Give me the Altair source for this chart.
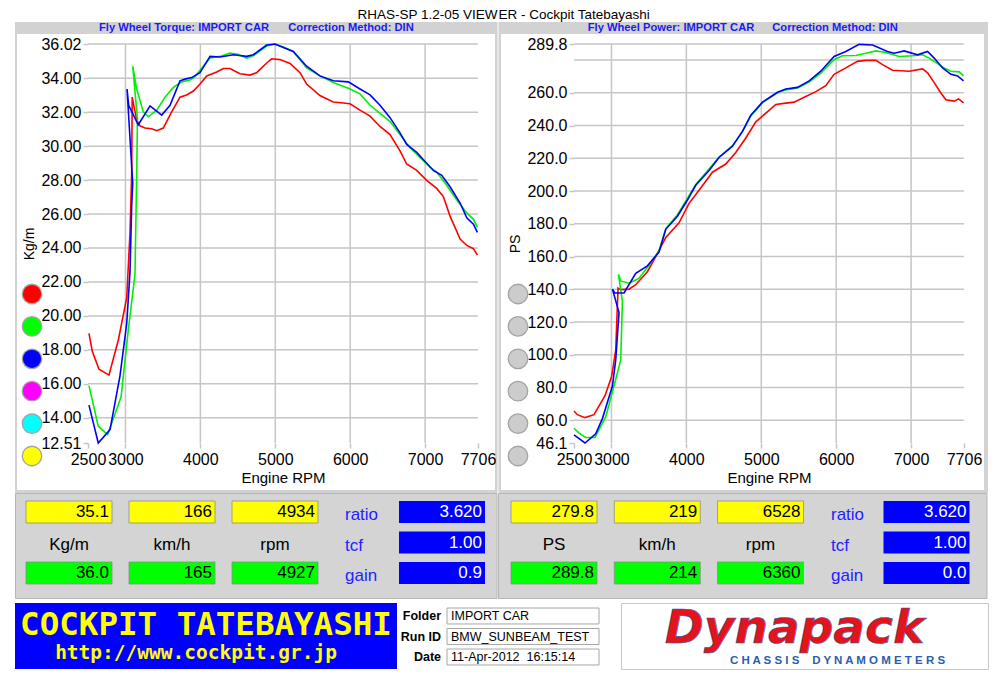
import altair as alt
import pandas as pd

# ---------------- data ----------------
TITLE_LEFT = "RHAS-SP 1.2-05 VIEW"
TITLE_RIGHT = "ER - Cockpit Tatebayashi"
RUNS = ["Run 1", "Run 2", "Run 3"]
RUN_COLORS = ["#ff0000", "#00f000", "#0000ff"]
LEGEND_LEFT = ["#ff0000", "#00ff00", "#0000ff", "#ff00ff", "#00ffff", "#ffff00"]
LEGEND_RIGHT = ["#cccccc"] * 6

X_TICKS = [2500, 3000, 4000, 5000, 6000, 7000, 7706]
X_GRID = [3000, 4000, 5000, 6000, 7000]
TORQUE_TICKS = [12.51, 14, 16, 18, 20, 22, 24, 26, 28, 30, 32, 34, 36.02]
TORQUE_GRID = [14, 16, 18, 20, 22, 24, 26, 28, 30, 32, 34, 36.02]
POWER_TICKS = [46.1, 60, 80, 100, 120, 140, 160, 180, 200, 220, 240, 260, 289.8]
POWER_GRID = [60, 80, 100, 120, 140, 160, 180, 200, 220, 240, 260, 280, 289.8]

TORQUE_RED = [(2513, 18.97), (2557, 17.91), (2647, 16.86), (2780, 16.51), (2905, 18.58), (3017, 21.08),
              (3061, 24.92), (3083, 28.38), (3090, 32.89), (3150, 31.54), (3194, 31.20), (3261, 31.07),
              (3350, 31.03), (3417, 30.91), (3505, 31.07), (3617, 32.02), (3728, 32.89), (3817, 33.02),
              (3906, 33.25), (3995, 33.66), (4085, 34.14), (4218, 34.37), (4307, 34.58), (4395, 34.58),
              (4529, 34.27), (4663, 34.19), (4752, 34.33), (4885, 34.90), (4952, 35.15), (5063, 35.10),
              (5197, 34.87), (5330, 34.33), (5418, 33.66), (5596, 32.98), (5774, 32.60), (5908, 32.54),
              (5997, 32.50), (6131, 32.12), (6265, 31.77), (6398, 31.16), (6532, 30.68), (6665, 29.72),
              (6754, 28.95), (6888, 28.57), (7021, 27.99), (7154, 27.51), (7243, 27.03), (7333, 25.88),
              (7467, 24.53), (7556, 24.15), (7645, 23.96), (7698, 23.58)]
TORQUE_GREEN = [(2513, 15.89), (2637, 13.50), (2763, 13.01), (2941, 15.22), (3038, 19.16), (3127, 22.43),
                (3150, 28.38), (3160, 31.60), (3097, 34.71), (3150, 33.37), (3238, 32.02), (3305, 31.73),
                (3417, 32.12), (3528, 32.89), (3639, 33.46), (3751, 33.79), (3862, 33.90), (3928, 34.10),
                (4039, 34.71), (4129, 35.19), (4262, 35.29), (4395, 35.48), (4500, 35.42), (4618, 35.19),
                (4707, 35.33), (4885, 35.90), (4996, 36.00), (5107, 35.85), (5240, 35.58), (5418, 34.61),
                (5596, 34.14), (5774, 33.75), (5975, 33.41), (6131, 33.08), (6265, 32.41), (6398, 31.93),
                (6532, 31.45), (6665, 30.68), (6799, 29.91), (6932, 29.34), (7065, 28.76), (7154, 28.47),
                (7288, 27.70), (7421, 26.84), (7556, 26.07), (7645, 25.69), (7698, 25.21)]
TORQUE_BLUE = [(2513, 14.74), (2637, 12.51), (2794, 13.30), (2927, 16.47), (3017, 19.55), (3061, 22.62),
               (3083, 26.47), (3097, 27.80), (3021, 33.37), (3043, 32.41), (3171, 31.26), (3328, 32.37),
               (3484, 31.83), (3595, 32.41), (3728, 33.85), (3795, 33.95), (3884, 34.04), (3995, 34.33),
               (4129, 35.29), (4262, 35.25), (4440, 35.39), (4618, 35.29), (4707, 35.39), (4885, 35.96),
               (4996, 36.02), (5107, 35.82), (5240, 35.58), (5418, 34.71), (5596, 34.14), (5774, 33.85),
               (5975, 33.79), (6131, 33.37), (6265, 33.02), (6398, 32.41), (6532, 31.68), (6665, 30.78),
               (6754, 30.10), (6888, 29.63), (7021, 28.99), (7110, 28.57), (7222, 28.28), (7333, 27.61),
               (7467, 26.65), (7556, 25.78), (7645, 25.40), (7698, 24.92)]

POWER_RED = [(2500, 65.7), (2545, 63.4), (2647, 61.6), (2767, 63.4), (2914, 75.0), (3003, 86.9),
             (3057, 102.9), (3088, 140.7), (3124, 139.8), (3235, 140.1), (3324, 142.8), (3480, 150.7),
             (3591, 160.0), (3725, 171.6), (3902, 180.6), (4036, 192.5), (4169, 200.5), (4348, 211.5),
             (4526, 216.5), (4659, 223.5), (4793, 232.4), (4927, 242.3), (5104, 249.3), (5194, 252.9),
             (5327, 253.7), (5438, 254.3), (5572, 257.3), (5728, 260.7), (5861, 264.3), (5972, 271.3),
             (6128, 275.2), (6284, 279.2), (6396, 279.8), (6529, 279.8), (6619, 277.2), (6752, 273.8),
             (6974, 273.2), (7153, 274.6), (7220, 272.2), (7308, 266.2), (7397, 259.9), (7464, 255.7),
             (7575, 254.9), (7634, 256.3), (7700, 253.9)]
POWER_GREEN = [(2500, 55.1), (2567, 52.1), (2656, 49.5), (2780, 49.5), (2923, 62.0), (3034, 80.9),
               (3124, 96.9), (3146, 132.8), (3093, 149.1), (3124, 145.1), (3235, 143.7), (3368, 146.7),
               (3501, 154.7), (3635, 163.5), (3725, 177.0), (3881, 185.5), (4014, 195.5), (4125, 204.0),
               (4303, 213.5), (4436, 220.8), (4615, 227.6), (4749, 236.4), (4860, 245.8), (5016, 254.0),
               (5216, 260.0), (5327, 261.8), (5483, 263.0), (5639, 266.5), (5794, 272.0), (5972, 280.2),
               (6084, 282.6), (6262, 282.8), (6396, 284.2), (6529, 285.6), (6663, 284.6), (6841, 282.2),
               (7019, 282.6), (7153, 283.2), (7241, 281.2), (7441, 275.2), (7531, 273.2), (7642, 272.8),
               (7700, 270.3)]
POWER_BLUE = [(2500, 51.1), (2647, 46.1), (2790, 51.7), (2879, 61.0), (3013, 80.9), (3057, 96.9),
              (3101, 125.8), (3013, 140.1), (3044, 137.7), (3168, 137.7), (3324, 149.7), (3480, 154.3),
              (3635, 162.7), (3725, 176.6), (3881, 184.6), (4014, 194.5), (4125, 203.5), (4303, 212.5),
              (4436, 220.5), (4615, 227.4), (4749, 236.4), (4860, 246.3), (5016, 254.3), (5216, 260.3),
              (5327, 262.3), (5483, 263.3), (5639, 267.3), (5794, 273.2), (5972, 282.2), (6128, 285.2),
              (6306, 289.6), (6485, 289.2), (6685, 285.2), (6774, 284.2), (6907, 285.6), (7086, 283.2),
              (7220, 285.2), (7308, 281.2), (7420, 275.2), (7531, 271.3), (7620, 270.3), (7700, 267.3)]

VALUE_COLS = ["c1", "c2", "c3"]
ROWS = ["top", "mid", "bot"]
LEFT_TOP = ["35.1", "166", "4934"]
LEFT_UNITS = ["Kg/m", "km/h", "rpm"]
LEFT_BOT = ["36.0", "165", "4927"]
RIGHT_TOP = ["279.8", "219", "6528"]
RIGHT_UNITS = ["PS", "km/h", "rpm"]
RIGHT_BOT = ["289.8", "214", "6360"]
SIDE_LABELS = ["ratio", "tcf", "gain"]
LEFT_SIDE = ["3.620", "1.00", "0.9"]
RIGHT_SIDE = ["3.620", "1.00", "0.0"]

SHOP_LINES = ["COCKPIT TATEBAYASHI", "http://www.cockpit.gr.jp"]
FIELD_LABELS = ["Folder", "Run ID", "Date"]
FIELD_VALUES = ["IMPORT CAR", "BMW_SUNBEAM_TEST", "11-Apr-2012\u00a0\u00a016:15:14"]
BRAND = "Dynapack"
TAGLINE = "C H A S S I S\u00a0\u00a0\u00a0\u00a0D Y N A M O M E T E R S"

# ---------------- styling ----------------
FONT = "Liberation Sans"
GRID = "#c6c6c6"
PANEL_GRAY = "#d2d2d2"
W, H = 390, 399          # data area of each panel
TOP = 36                 # title + header band above the data area (inside the view)
LEAD = 73                # left overflow of the first panel (axis area) - shared by every row
ONE = pd.DataFrame({"k": [0]})


def make_df(series):
    rows = []
    for run, pts in zip(RUNS, series):
        for i, (r, v) in enumerate(pts):
            rows.append({"run": run, "i": i, "rpm": r, "val": v})
    return pd.DataFrame(rows)


def x_enc(field):
    return alt.X(field, type="quantitative",
                 scale=alt.Scale(domain=[2500, 7706], nice=False, zero=False),
                 axis=alt.Axis(values=X_TICKS, format="d", labelOverlap=False, labelFlush=False,
                               title="Engine RPM", grid=False, domain=False, ticks=True,
                               tickColor=GRID, tickSize=5, tickWidth=1.5, labelFontSize=16,
                               labelPadding=3, titleFontSize=15, titleFontWeight="normal",
                               titlePadding=3, zindex=1))


def panel(series, ydom, yticks, ygrid, yfmt, ytitle, headers, gray_x, white_x, legend_cols, title):
    yscale = alt.Scale(domain=ydom, nice=False, zero=False, range=[TOP + H, TOP])
    gray = alt.Chart(ONE).mark_rect(color=PANEL_GRAY).encode(
        x=alt.value(gray_x[0]), x2=alt.value(gray_x[1]), y=alt.value(14), y2=alt.value(TOP + H + 50))
    white = alt.Chart(ONE).mark_rect(color="white").encode(
        x=alt.value(white_x[0]), x2=alt.value(white_x[1]), y=alt.value(26), y2=alt.value(TOP + H + 47))
    heads = [alt.Chart(ONE).mark_text(text=t, font=FONT, fontSize=11.2, fontWeight="bold",
                                      color="#1c1cf0", align="center", baseline="middle").encode(
        x=alt.value(cx), y=alt.value(20)) for cx, t in headers]
    tx, talign, ttext = title
    heads.append(alt.Chart(ONE).mark_text(text=ttext, font=FONT, fontSize=13.5, color="black",
                                          align=talign, baseline="middle").encode(
        x=alt.value(tx), y=alt.value(7)))
    hgrid = alt.Chart(pd.DataFrame({"g": ygrid})).mark_rule(color=GRID, strokeWidth=1.5).encode(
        y=alt.Y("g:Q", scale=yscale, axis=None))
    vgrid = alt.Chart(pd.DataFrame({"g": X_GRID})).mark_rule(color=GRID, strokeWidth=1.5).encode(
        x=x_enc("g"), y=alt.value(TOP), y2=alt.value(TOP + H))
    lines = alt.Chart(make_df(series)).mark_line(strokeWidth=1.6).encode(
        x=x_enc("rpm"),
        y=alt.Y("val:Q", scale=yscale,
                axis=alt.Axis(values=yticks, format=yfmt, labelOverlap=False, labelFlush=False,
                              title=ytitle, grid=False, domain=False, tickColor=GRID, tickSize=5,
                              tickWidth=1.5, labelFontSize=16, labelPadding=2, titleFontSize=14,
                              titleFontWeight="normal", titlePadding=4, zindex=1)),
        color=alt.Color("run:N", scale=alt.Scale(domain=RUNS, range=RUN_COLORS), legend=None),
        order=alt.Order("i:Q"))
    legend_df = pd.DataFrame({"slot": list(range(6)), "c": legend_cols})
    circles = alt.Chart(legend_df).mark_point(filled=True, size=380, opacity=1, stroke="#a4a4a4",
                                              strokeWidth=1.3).encode(
        x=alt.value(-56),
        y=alt.Y("slot:O", scale=alt.Scale(type="point", domain=list(range(6)),
                                          range=[TOP + 250, TOP + 412], padding=0), axis=None),
        fill=alt.Fill("c:N", scale=None))
    return alt.layer(gray, white, *heads, hgrid, vgrid, circles, lines).resolve_scale(
        y="independent").properties(width=W, height=TOP + H)


BOX86 = "M-1,-0.256L1,-0.256L1,0.256L-1,0.256Z"
INFO_H = 106


def info(width, lead, top_vals, units, bot_vals, side_vals, col_range, side_range):
    cells = []
    for c, t, b in zip(VALUE_COLS, top_vals, bot_vals):
        cells.append({"col": c, "row": "top", "fill": "#ffff00", "txt": t})
        cells.append({"col": c, "row": "bot", "fill": "#00ff00", "txt": b})
    cells = pd.DataFrame(cells)
    units_df = pd.DataFrame({"col": VALUE_COLS, "row": ["mid"] * 3, "txt": units})
    side_df = pd.DataFrame({"row": ROWS, "lab": SIDE_LABELS, "val": side_vals,
                            "k1": ["lab"] * 3, "k2": ["box"] * 3})
    cr = [col_range[0] - lead, col_range[1] - lead]
    sl = side_range[0] - lead
    sb = side_range[1] - lead
    yr = alt.Y("row:N", scale=alt.Scale(type="point", domain=ROWS, range=[19, 80], padding=0), axis=None)
    xv = alt.X("col:N", scale=alt.Scale(type="point", domain=VALUE_COLS, range=cr, padding=0), axis=None)
    xl = alt.X("k1:N", scale=alt.Scale(type="point", domain=["lab"], range=[sl, sl], padding=0), axis=None)
    xb = alt.X("k2:N", scale=alt.Scale(type="point", domain=["box"], range=[sb, sb], padding=0), axis=None)
    bg = alt.Chart(ONE).mark_rect(fill="#d4d4d4", stroke="#b6b6b6", strokeWidth=1).encode(
        x=alt.value(-lead + 0.5), x2=alt.value(width - lead - 0.5), y=alt.value(0.5),
        y2=alt.value(INFO_H - 0.5))
    gap = alt.Chart(ONE).mark_rect(color="white").encode(
        x=alt.value(-lead), x2=alt.value(width - lead), y=alt.value(INFO_H), y2=alt.value(INFO_H + 3))
    boxes = alt.Chart(cells).mark_point(shape=BOX86, size=7396, filled=True, opacity=1,
                                        stroke="#8e8e8e", strokeWidth=0.8).encode(
        x=xv, y=yr, fill=alt.Fill("fill:N", scale=None))
    vtext = alt.Chart(cells).mark_text(align="right", baseline="middle", dx=40, fontSize=17, font=FONT,
                                       color="black").encode(x=xv, y=yr, text="txt:N")
    utext = alt.Chart(units_df).mark_text(align="center", baseline="middle", dy=2, fontSize=17, font=FONT,
                                          color="black").encode(x=xv, y=yr, text="txt:N")
    slab = alt.Chart(side_df).mark_text(align="left", baseline="middle", dy=3, fontSize=17, font=FONT,
                                        color="#2323ff").encode(x=xl, y=yr, text="lab:N")
    sbox = alt.Chart(side_df).mark_point(shape=BOX86, size=7396, filled=True, opacity=1,
                                         color="#0000ff").encode(x=xb, y=yr)
    stext = alt.Chart(side_df).mark_text(align="right", baseline="middle", dx=40, fontSize=17, font=FONT,
                                         color="white").encode(x=xb, y=yr, text="val:N")
    return alt.layer(bg, gap, boxes, vtext, utext, slab, sbox, stext).resolve_scale(
        x="independent").properties(width=width - lead, height=INFO_H)


left_panel = panel([TORQUE_RED, TORQUE_GREEN, TORQUE_BLUE], [12.51, 36.02], TORQUE_TICKS, TORQUE_GRID,
                   ".2f", "Kg/m",
                   [(96, "Fly Wheel Torque: IMPORT CAR"), (263, "Correction Method: DIN")],
                   (-73, 409.5), (-71, 407), LEGEND_LEFT, (409.5, "right", TITLE_LEFT))
right_panel = panel([POWER_RED, POWER_GREEN, POWER_BLUE], [46.1, 289.8], POWER_TICKS, POWER_GRID,
                    ".1f", "PS",
                    [(97, "Fly Wheel Power: IMPORT CAR"), (261, "Correction Method: DIN")],
                    (-75.5, 414), (-73, 410), LEGEND_RIGHT, (-75.5, "left", TITLE_RIGHT))

left_info = info(482.5, LEAD, LEFT_TOP, LEFT_UNITS, LEFT_BOT, LEFT_SIDE, [54, 260], [330, 427])
right_info = info(489.5, 0, RIGHT_TOP, RIGHT_UNITS, RIGHT_BOT, RIGHT_SIDE, [56, 262.5], [333, 428.5])

# ---- footer ----
FOOT_H = 66
SHOP_W = 382
shop_df = pd.DataFrame({"line": ["name", "url"], "txt": SHOP_LINES})
shop_y = alt.Y("line:N", scale=alt.Scale(type="point", domain=["name", "url"], range=[22, 50], padding=0),
               axis=None)
shop_bg = alt.Chart(ONE).mark_rect(color="#0000ff").encode(
    x=alt.value(-LEAD), x2=alt.value(SHOP_W - LEAD), y=alt.value(0), y2=alt.value(FOOT_H))
shop_name = alt.Chart(shop_df[shop_df.line == "name"]).mark_text(
    font="DejaVu Sans Mono", fontSize=32.5, fontWeight="bold", color="#ffff00", baseline="middle",
    dx=-LEAD / 2).encode(y=shop_y, text="txt:N")
shop_url = alt.Chart(shop_df[shop_df.line == "url"]).mark_text(
    font="DejaVu Sans Mono", fontSize=19.5, fontWeight="bold", color="#ffff00", baseline="middle",
    dx=-LEAD / 2 - 10).encode(y=shop_y, text="txt:N")
shop = alt.layer(shop_bg, shop_name, shop_url).properties(width=SHOP_W - LEAD, height=FOOT_H)

fields_df = pd.DataFrame({"row": FIELD_LABELS, "lab": FIELD_LABELS, "val": FIELD_VALUES,
                          "k1": ["label"] * 3, "k2": ["field"] * 3})
fy = alt.Y("row:N", scale=alt.Scale(type="point", domain=FIELD_LABELS, range=[13, 54], padding=0), axis=None)
fxl = alt.X("k1:N", scale=alt.Scale(type="point", domain=["label", "field"], range=[44, 52], padding=0),
            axis=None)
fxv = alt.X("k2:N", scale=alt.Scale(type="point", domain=["label", "field"], range=[44, 52], padding=0),
            axis=None)
FIELD_BOX = "M-1,-0.105L1,-0.105L1,0.105L-1,0.105Z"
f_lab = alt.Chart(fields_df).mark_text(align="right", baseline="middle", font=FONT, fontSize=12.5,
                                       fontWeight="bold", color="black").encode(x=fxl, y=fy, text="lab:N")
f_box = alt.Chart(fields_df).mark_point(shape=FIELD_BOX, size=23104, filled=True, opacity=1, fill="white",
                                        stroke="#a6a6a6", strokeWidth=1, xOffset=74).encode(x=fxv, y=fy)
f_val = alt.Chart(fields_df).mark_text(align="left", baseline="middle", dx=2, font=FONT, fontSize=12.5,
                                       color="black").encode(x=fxv, y=fy, text="val:N")
fields = alt.layer(f_lab, f_box, f_val).properties(
    width=223, height=FOOT_H, view=alt.ViewBackground(fill="white", strokeWidth=0))

logo_df = pd.DataFrame({"line": ["brand", "tag"], "txt": [BRAND, TAGLINE]})
ly = alt.Y("line:N", scale=alt.Scale(type="point", domain=["brand", "tag"], range=[26, 58], padding=0),
           axis=None)
brand = alt.Chart(logo_df[logo_df.line == "brand"]).mark_text(
    font="DejaVu Sans", fontSize=47, fontWeight="bold", fontStyle="italic", color="#e3141b",
    stroke="#2b5db0", strokeWidth=0.6, baseline="middle", dx=-10).encode(y=ly, text="txt:N")
tag = alt.Chart(logo_df[logo_df.line == "tag"]).mark_text(
    font=FONT, fontSize=11.5, fontWeight="bold", color="#2b5db0", baseline="middle", dx=33).encode(
    y=ly, text="txt:N")
logo = alt.layer(brand, tag).properties(
    width=367, height=FOOT_H, view=alt.ViewBackground(fill="white", stroke="#c8c8c8", strokeWidth=1))

chart = alt.vconcat(
    alt.hconcat(left_panel, right_panel, spacing=0),
    alt.hconcat(left_info, right_info, spacing=0),
    alt.hconcat(shop, fields, logo, spacing=0),
    spacing=0,
    padding={"left": 7, "top": 0, "right": 0, "bottom": 0},
    background="white",
).configure_view(strokeWidth=0).configure_axis(
    labelFont=FONT, titleFont=FONT, labelColor="black", titleColor="black")

chart.save("out.html", embed_options={"renderer": "svg", "actions": False})
